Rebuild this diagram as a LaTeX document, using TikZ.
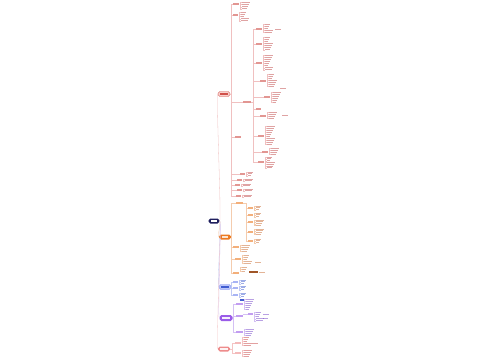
\documentclass[tikz,border=0pt]{standalone}
\begin{document}
\begin{tikzpicture}[x=1pt,y=-1pt]
\definecolor{rootc}{HTML}{1F1F5E}
\definecolor{redc}{HTML}{D0504A}
\definecolor{redt}{HTML}{C04848}
\definecolor{redf}{HTML}{F9D0CC}
\definecolor{redl}{HTML}{F0C0C0}
\definecolor{orc}{HTML}{EC7A22}
\definecolor{ort}{HTML}{C86A30}
\definecolor{orl}{HTML}{F4CCAE}
\definecolor{blc}{HTML}{6F82EE}
\definecolor{blf}{HTML}{BCC6FA}
\definecolor{blt}{HTML}{3F5CD0}
\definecolor{bll}{HTML}{C0CAF4}
\definecolor{puc}{HTML}{9A5CE8}
\definecolor{put}{HTML}{7444C8}
\definecolor{pul}{HTML}{D4C0F4}
\definecolor{pkc}{HTML}{EE8C8C}
\definecolor{pkt}{HTML}{C84444}
\definecolor{pkl}{HTML}{F4C4C4}
\tikzset{
  mb/.style={rounded corners=1.8, minimum width=12, minimum height=5, inner sep=0, line width=0.3},
  lw/.style={line width=0.3},
  rc/.style={lw, out=0, in=180, looseness=0.15}
}
\newcommand{\grp}[6]{%
  \pgfmathsetmacro\yend{#2+(#3-1)*#4}%
  \draw[#6,line width=0.2] (#1,#2) -- (#1,\yend);%
  \foreach \i in {1,...,#3}{%
    \pgfmathsetmacro\yy{#2+(\i-1)*#4}%
    \pgfmathsetmacro\ww{3+mod(\i*5+#3*3,6)}%
    \draw[#6,line width=0.2] (#1,\yy) -- ++(1.5,0);%
    \fill[#5,opacity=0.5] (#1+2,\yy-0.45) rectangle ++(\ww,0.9);%
  }}
\newcommand{\lab}[6]{%
  \draw[#5,line width=0.2] (#6,#2) -- (#1,#2);%
  \fill[#4,opacity=0.6] (#1,#2-0.6) rectangle ++(#3,1.2);}
\useasboundingbox (0,0) rectangle (500,360);
\fill[white] (0,0) rectangle (500,360);

% ---------- root ----------
\node[mb, fill=rootc, minimum width=11, minimum height=5] (root) at (214,221) {};
\fill[white] (211,220.4) rectangle ++(6,1.2);

% ---------- main branch nodes ----------
\node[mb, fill=redf, draw=redc] (R) at (224,94) {};
\fill[redc] (220,93.4) rectangle ++(8,1.2);
\node[mb, fill=orc] (O) at (225,237) {};
\fill[white,opacity=0.8] (222,236.4) rectangle ++(6,1.2);
\node[mb, fill=blf, draw=blc] (B) at (225,287) {};
\fill[blt] (221,286.4) rectangle ++(8,1.2);
\node[mb, fill=puc, minimum width=13, minimum height=6] (P) at (226,318) {};
\fill[white,opacity=0.9] (222,317.4) rectangle ++(8,1.2);
\node[mb, fill=pkc] (K) at (224,349) {};
\fill[white,opacity=0.9] (220,348.4) rectangle ++(8,1.2);

% ---------- root connectors ----------
\draw[redl, lw] (root.east) .. controls +(2,0) and +(-2,0) .. (R.west);
\draw[orl, lw] (root.east) .. controls +(2,0) and +(-2,0) .. (O.west);
\draw[bll, lw] (root.east) .. controls +(2,0) and +(-2,0) .. (B.west);
\draw[pul, lw] (root.east) .. controls +(2,0) and +(-2,0) .. (P.west);
\draw[pkl, lw] (root.east) .. controls +(2,0) and +(-2,0) .. (K.west);

% ---------- red branch ----------
\coordinate (rs) at (231,94);
\draw[lw, redl] (R.east) -- (rs);
\draw[lw, redl] (231,4) -- (231,196);
\lab{233}{4}{6}{redc}{redl}{231} \grp{240}{2}{4}{2.3}{redt}{redl}
\lab{233}{15}{5}{redc}{redl}{231} \grp{239}{12}{5}{2.2}{redt}{redl}
\lab{243}{102}{8}{redc}{redl}{231}
\draw[lw, redl] (251,102) -- (253,102);
\draw[lw, redl] (253,29) -- (253,162);
\lab{256}{29}{6}{redc}{redl}{253} \grp{263}{24}{5}{2}{redt}{redl}
\fill[redt,opacity=0.5] (275,28.5) rectangle ++(6,1);
\lab{256}{44}{6}{redc}{redl}{253} \grp{263}{37}{7}{2.1}{redt}{redl}
\lab{256}{63}{6}{redc}{redl}{253} \grp{263}{55}{8}{2.1}{redt}{redl}
\lab{260}{81}{6}{redc}{redl}{253} \grp{267}{74}{7}{2}{redt}{redl}
\fill[redt,opacity=0.5] (280,87.5) rectangle ++(6,1);
\lab{264}{97}{6}{redc}{redl}{253} \grp{271}{92}{6}{2}{redt}{redl}
\lab{256}{109}{5}{redc}{redl}{253}
\lab{260}{116}{6}{redc}{redl}{253} \grp{267}{112}{4}{2}{redt}{redl}
\fill[redt,opacity=0.5] (282,114.5) rectangle ++(6,1);
\lab{258}{136}{6}{redc}{redl}{253} \grp{265}{126}{10}{2}{redt}{redl}
\lab{262}{152}{6}{redc}{redl}{253} \grp{269}{148}{4}{2}{redt}{redl}
\lab{258}{162}{6}{redc}{redl}{253} \grp{265}{157}{7}{1.8}{redt}{redl}
\lab{235}{137}{6}{redc}{redl}{231}
\lab{240}{174}{5}{redc}{redl}{231} \grp{246}{172}{3}{1.8}{redt}{redl}
\lab{237}{180}{5}{redc}{redl}{231} \grp{243}{179}{2}{1.8}{redt}{redl}
\lab{235}{185}{5}{redc}{redl}{231} \grp{241}{184}{2}{1.8}{redt}{redl}
\lab{237}{190}{5}{redc}{redl}{231} \grp{243}{189}{2}{1.8}{redt}{redl}
\lab{236}{196}{5}{redc}{redl}{231} \grp{242}{195}{2}{1.8}{redt}{redl}

% ---------- orange branch ----------
\coordinate (os) at (231,237);
\draw[lw, orl] (O.east) -- (os);
\draw[lw, orl] (231,203) -- (231,273);
\lab{236}{203}{7}{orc}{orl}{231}
\draw[lw, orl] (243,203) -- (246,203) -- (246,241);
\lab{248}{208}{5}{orc}{orl}{246} \grp{254}{206}{3}{1.8}{ort}{orl}
\lab{248}{215}{5}{orc}{orl}{246} \grp{254}{213}{3}{1.8}{ort}{orl}
\lab{248}{222}{5}{orc}{orl}{246} \grp{254}{220}{4}{1.8}{ort}{orl}
\lab{248}{232}{5}{orc}{orl}{246} \grp{254}{229}{4}{1.8}{ort}{orl}
\lab{248}{241}{5}{orc}{orl}{246} \grp{254}{239}{3}{1.8}{ort}{orl}
\lab{233}{247}{6}{orc}{orl}{231} \grp{240}{245}{4}{2}{ort}{orl}
\lab{235}{259}{6}{orc}{orl}{231} \grp{242}{255}{5}{2}{ort}{orl}
\fill[ort,opacity=0.5] (255,261.5) rectangle ++(6,1);
\lab{233}{273}{6}{orc}{orl}{231} \grp{240}{267}{3}{2}{ort}{orl}
\fill[ort!80!black] (249,271.3) rectangle ++(9,1.4);
\fill[ort,opacity=0.5] (259,271.5) rectangle ++(6,1);

% ---------- blue branch ----------
\coordinate (bs) at (231,287);
\draw[lw, bll] (B.east) -- (bs);
\draw[lw, bll] (231,282) -- (231,295);
\lab{233}{282}{5}{blc}{bll}{231} \grp{239}{280}{3}{1.8}{blt}{bll}
\lab{233}{288}{5}{blc}{bll}{231} \grp{239}{286}{3}{1.8}{blt}{bll}
\lab{233}{295}{5}{blc}{bll}{231} \grp{239}{293}{3}{1.8}{blt}{bll}
\fill[blt] (240,299.4) rectangle ++(5,1.2);

% ---------- purple branch ----------
\coordinate (ps) at (233,318);
\draw[lw, pul] (P.east) -- (ps);
\draw[lw, pul] (233,304) -- (233,332);
\lab{236}{304}{7}{puc}{pul}{233} \grp{244}{299}{6}{2}{put}{pul}
\lab{236}{316}{7}{puc}{pul}{233}
\lab{248}{314}{5}{puc}{pul}{243} \grp{254}{312}{5}{2.2}{put}{pul}
\fill[put,opacity=0.5] (263,313.5) rectangle ++(6,1);
\fill[put,opacity=0.5] (263,317.5) rectangle ++(5,1);
\lab{236}{332}{7}{puc}{pul}{233} \grp{244}{329}{4}{2}{put}{pul}

% ---------- pink branch ----------
\coordinate (ks) at (232,349);
\draw[lw, pkl] (K.east) -- (ks);
\draw[lw, pkl] (232,343) -- (232,353);
\lab{235}{343}{6}{pkc}{pkl}{232} \grp{242}{337}{5}{2}{pkt}{pkl}
\fill[pkt,opacity=0.5] (252,342.5) rectangle ++(6,1);
\lab{235}{353}{6}{pkc}{pkl}{232} \grp{242}{350}{4}{2}{pkt}{pkl}
\end{tikzpicture}
\end{document}
